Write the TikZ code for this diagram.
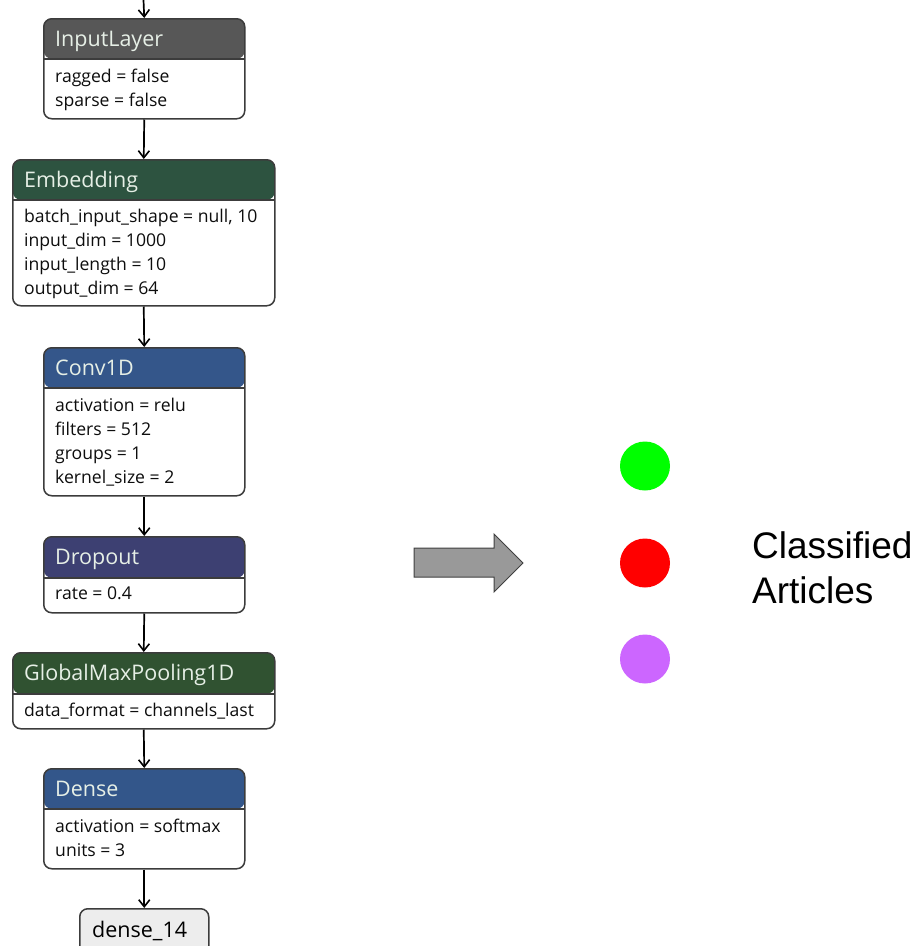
\documentclass[tikz,border=0pt]{standalone}
\usepackage{fontspec}
\setmainfont{Open Sans}
\newfontfamily\rfont{Liberation Sans}
\usetikzlibrary{arrows.meta,shapes.geometric}
\definecolor{bordc}{HTML}{3C3C3C}
\definecolor{cin}{HTML}{575757}
\definecolor{cemb}{HTML}{2D5340}
\definecolor{cconv}{HTML}{34568A}
\definecolor{cdrop}{HTML}{3D4072}
\definecolor{cgmp}{HTML}{305231}
\definecolor{cdense}{HTML}{33568A}
\definecolor{ctitle}{HTML}{E6EFE6}
\definecolor{carrow}{HTML}{999999}
\definecolor{cpurp}{HTML}{CC66FF}
\begin{document}
\begin{tikzpicture}[x=1pt,y=-1pt,
  lay/.style 2 args={draw=bordc, line width=1.5pt, rounded corners=8pt, fill=white, inner sep=0pt, anchor=north west,
    path picture={\fill[#1] (path picture bounding box.north west) rectangle ([yshift=-#2]path picture bounding box.north east);
      \draw[bordc, line width=1.5pt] ([yshift=-#2]path picture bounding box.north west) -- ([yshift=-#2]path picture bounding box.north east);}},
  ttl/.style={anchor=base west, inner sep=0pt, text=ctitle, font=\fontsize{21.5}{24}\selectfont},
  bdy/.style={anchor=base west, inner sep=0pt, text=black!95, font=\fontsize{17.6}{20}\selectfont},
  arr/.style={-{Straight Barb[length=7pt,width=11pt,line width=1.6pt]}, line width=1.7pt, black},
  dot/.style={ellipse, minimum width=50pt, minimum height=49pt, inner sep=0pt, draw=none}
]
\useasboundingbox (0,0) rectangle (915,946);

% boxes
\node[lay={cin}{40pt}, minimum width=201pt, minimum height=100pt] (inp) at (43,18) {};
\node[lay={cemb}{40pt}, minimum width=262pt, minimum height=146pt] (emb) at (12,159) {};
\node[lay={cconv}{40pt}, minimum width=201pt, minimum height=148pt] (conv) at (43,347) {};
\node[lay={cdrop}{41pt}, minimum width=201pt, minimum height=76pt] (drop) at (43,536) {};
\node[lay={cgmp}{41pt}, minimum width=262pt, minimum height=76pt] (gmp) at (12,652) {};
\node[lay={cdense}{40pt}, minimum width=201pt, minimum height=100pt] (dense) at (43,768) {};
\node[draw=bordc, line width=1.5pt, rounded corners=8pt, fill=black!7, inner sep=0pt, anchor=north west,
      minimum width=129pt, minimum height=50pt] (out) at (79,908) {};

% titles
\node[ttl] (tinp) at (55,46) {InputLayer};
\node[ttl] (temb) at (24,187) {Embedding};
\node[ttl] (tconv) at (55,375) {Conv1D};
\node[ttl] (tdrop) at (55,564) {Dropout};
\node[ttl] (tgmp) at (24,680) {GlobalMaxPooling1D};
\node[ttl] (tdense) at (55,796) {Dense};
\node[anchor=base west, inner sep=0pt, font=\fontsize{21.5}{24}\selectfont] (tout) at (92,937) {dense\_14};

% bodies
\node[bdy] (b11) at (55,82) {ragged = false};
\node[bdy] (b12) at (55,106) {sparse = false};
\node[bdy] (b21) at (24,222) {batch\_input\_shape = null, 10};
\node[bdy] (b22) at (24,246) {input\_dim = 1000};
\node[bdy] (b23) at (24,270) {input\_length = 10};
\node[bdy] (b24) at (24,294) {output\_dim = 64};
\node[bdy] (b31) at (55,411) {activation = relu};
\node[bdy] (b32) at (55,435) {filters = 512};
\node[bdy] (b33) at (55,459) {groups = 1};
\node[bdy] (b34) at (55,483) {kernel\_size = 2};
\node[bdy] (b41) at (55,599) {rate = 0.4};
\node[bdy] (b51) at (24,716) {data\_format = channels\_last};
\node[bdy] (b61) at (55,832) {activation = softmax};
\node[bdy] (b62) at (55,856) {units = 3};

% connectors
\coordinate (top) at (143.5,0);
\draw[arr] (top) -- (inp.north);
\draw[arr] (inp.south) -- (emb.north);
\draw[arr] (emb.south) -- (conv.north);
\draw[arr] (conv.south) -- (drop.north);
\draw[arr] (drop.south) -- (gmp.north);
\draw[arr] (gmp.south) -- (dense.north);
\draw[arr] (dense.south) -- (out.north);

% big arrow
\draw[fill=carrow, draw=black!75, line width=1pt]
  (414,548) -- (494,548) -- (494,534) -- (523,563) -- (494,592) -- (494,577) -- (414,577) -- cycle;

% dots
\node[dot, fill=green] (g) at (645,466) {};
\node[dot, fill=red] (r) at (645,563) {};
\node[dot, fill=cpurp] (p) at (645,659) {};

% label
\node[anchor=base west, inner sep=0pt, font=\rfont\fontsize{37}{44}\selectfont] (l1) at (752,558) {Classified};
\node[anchor=base west, inner sep=0pt, font=\rfont\fontsize{37}{44}\selectfont] (l2) at (752,603) {Articles};
\end{tikzpicture}
\end{document}
